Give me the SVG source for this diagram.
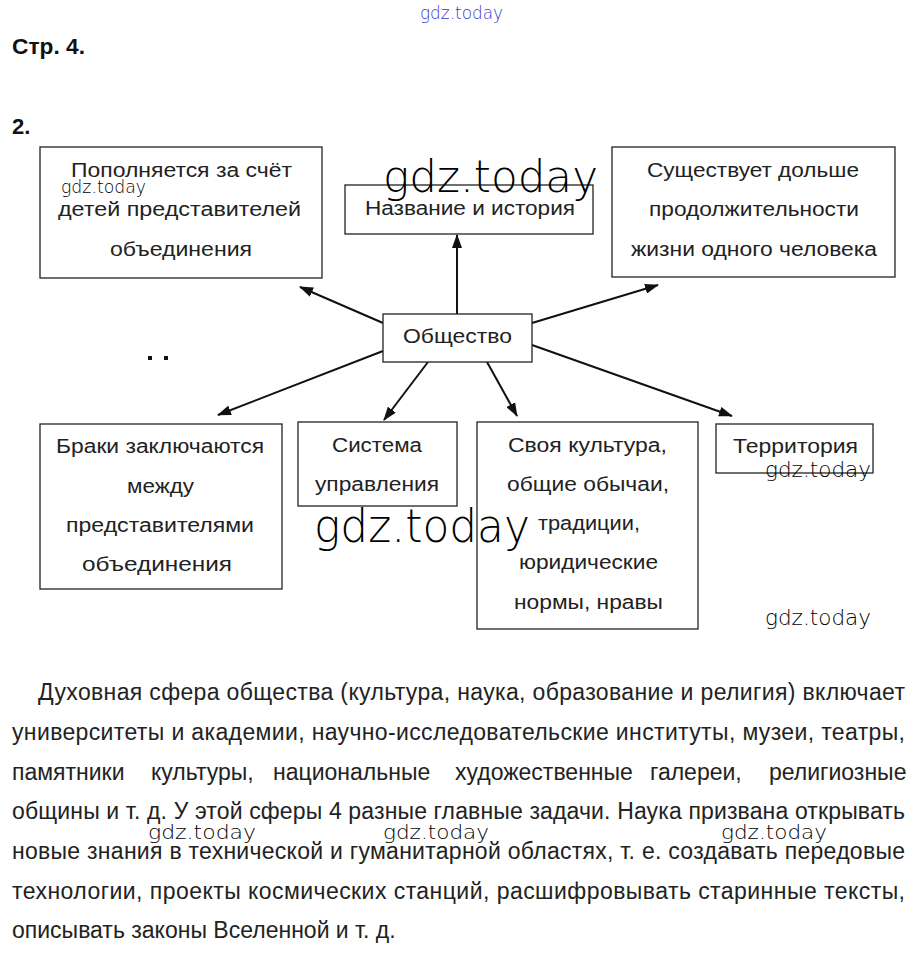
<svg xmlns="http://www.w3.org/2000/svg" width="920" height="956" viewBox="0 0 920 956">
<defs>
<style>
.box{fill:#fff;stroke:#222;stroke-width:1.3}
.bt{font-family:"Liberation Sans",Arial,sans-serif;font-size:20px;fill:#222}
.wm{font-family:"DejaVu Sans","Liberation Sans",sans-serif;font-weight:200;fill:#000}
.p{font-family:"Liberation Sans",Arial,sans-serif;font-size:23px;fill:#222}
.h{font-family:"Liberation Sans",Arial,sans-serif;font-size:22px;font-weight:bold;fill:#111}
.c{stroke:#111;stroke-width:2;fill:none;marker-end:url(#ah)}
</style>
<marker id="ah" viewBox="0 0 14 10" refX="13" refY="5" markerWidth="14" markerHeight="10" markerUnits="userSpaceOnUse" orient="auto">
<path d="M0,0 L14,5 L0,10 Z" fill="#111"/>
</marker>
</defs>
<rect width="920" height="956" fill="#fff"/>

<text x="420" y="19" class="wm" font-size="17" style="fill:#3a3acc" textLength="83" lengthAdjust="spacingAndGlyphs">gdz.today</text>
<text x="12" y="54" class="h" textLength="73" lengthAdjust="spacingAndGlyphs">Стр. 4.</text>
<text x="12" y="134" class="h">2.</text>
<rect x="148" y="356" width="4" height="4" fill="#111"/>
<rect x="164" y="356" width="4" height="4" fill="#111"/>

<g id="connectors">
<line class="c" x1="457" y1="314" x2="457" y2="235"/>
<line class="c" x1="383" y1="323" x2="300" y2="287"/>
<line class="c" x1="532" y1="323" x2="658" y2="285"/>
<line class="c" x1="383" y1="351" x2="218" y2="415"/>
<line class="c" x1="428" y1="362" x2="384" y2="420"/>
<line class="c" x1="487" y1="362" x2="517" y2="416"/>
<line class="c" x1="532" y1="345" x2="732" y2="416"/>
</g>

<g id="n-popoln">
<rect class="box" x="40" y="147" width="282" height="131"/>
<text class="bt" x="71" y="177" textLength="221" lengthAdjust="spacingAndGlyphs">Пополняется за счёт</text>
<text class="bt" x="58" y="216" textLength="243" lengthAdjust="spacingAndGlyphs">детей представителей</text>
<text class="bt" x="110" y="256" textLength="142" lengthAdjust="spacingAndGlyphs">объединения</text>
</g>
<g id="n-nazv">
<rect class="box" x="345" y="185" width="248" height="49"/>
<text class="bt" x="365" y="215" textLength="210" lengthAdjust="spacingAndGlyphs">Название и история</text>
</g>
<g id="n-sush">
<rect class="box" x="612" y="147" width="283" height="130"/>
<text class="bt" x="647" y="177" textLength="212" lengthAdjust="spacingAndGlyphs">Существует дольше</text>
<text class="bt" x="649" y="216" textLength="210" lengthAdjust="spacingAndGlyphs">продолжительности</text>
<text class="bt" x="631" y="256" textLength="246" lengthAdjust="spacingAndGlyphs">жизни одного человека</text>
</g>
<g id="n-obsh">
<rect class="box" x="383" y="314" width="149" height="48"/>
<text class="bt" x="403" y="343" textLength="109" lengthAdjust="spacingAndGlyphs">Общество</text>
</g>
<g id="n-braki">
<rect class="box" x="40" y="424" width="242" height="165"/>
<text class="bt" x="56" y="453" textLength="208" lengthAdjust="spacingAndGlyphs">Браки заключаются</text>
<text class="bt" x="127" y="493" textLength="67" lengthAdjust="spacingAndGlyphs">между</text>
<text class="bt" x="66" y="532" textLength="188" lengthAdjust="spacingAndGlyphs">представителями</text>
<text class="bt" x="82" y="571" textLength="150" lengthAdjust="spacingAndGlyphs">объединения</text>
</g>
<g id="n-sist">
<rect class="box" x="298" y="422" width="159" height="84"/>
<text class="bt" x="332" y="452" textLength="90" lengthAdjust="spacingAndGlyphs">Система</text>
<text class="bt" x="315" y="491" textLength="124" lengthAdjust="spacingAndGlyphs">управления</text>
</g>
<g id="n-kult">
<rect class="box" x="477" y="422" width="221" height="207"/>
<text class="bt" x="508" y="452" textLength="159" lengthAdjust="spacingAndGlyphs">Своя культура,</text>
<text class="bt" x="507" y="491" textLength="162" lengthAdjust="spacingAndGlyphs">общие обычаи,</text>
<text class="bt" x="538" y="530" textLength="102" lengthAdjust="spacingAndGlyphs">традиции,</text>
<text class="bt" x="519" y="569" textLength="139" lengthAdjust="spacingAndGlyphs">юридические</text>
<text class="bt" x="514" y="609" textLength="149" lengthAdjust="spacingAndGlyphs">нормы, нравы</text>
</g>
<g id="n-terr">
<rect class="box" x="716" y="424" width="157" height="49"/>
<text class="bt" x="733" y="453" textLength="125" lengthAdjust="spacingAndGlyphs">Территория</text>
</g>

<text x="383" y="192" class="wm" font-size="44" textLength="215" lengthAdjust="spacingAndGlyphs">gdz.today</text>
<text x="61" y="193" class="wm" font-size="17" textLength="85" lengthAdjust="spacingAndGlyphs">gdz.today</text>
<text x="314" y="542" class="wm" font-size="46" textLength="216" lengthAdjust="spacingAndGlyphs">gdz.today</text>
<text x="765" y="477" class="wm" font-size="21" textLength="106" lengthAdjust="spacingAndGlyphs">gdz.today</text>
<text x="765" y="625" class="wm" font-size="22" textLength="106" lengthAdjust="spacingAndGlyphs">gdz.today</text>

<text class="p" x="38" y="700" textLength="867" lengthAdjust="spacing">Духовная сфера общества (культура, наука, образование и религия) включает</text>
<text class="p" x="12" y="740" textLength="893" lengthAdjust="spacing">университеты и академии, научно-исследовательские институты, музеи, театры,</text>
<text class="p" y="780"><tspan x="12">памятники</tspan><tspan x="151">культуры,</tspan><tspan x="273">национальные</tspan><tspan x="455">художественные</tspan><tspan x="650">галереи,</tspan><tspan x="769">религиозные</tspan></text>
<text class="p" x="12" y="819" textLength="893" lengthAdjust="spacing">общины и т. д. У этой сферы 4 разные главные задачи. Наука призвана открывать</text>
<text x="148" y="839" class="wm" font-size="20" textLength="108" lengthAdjust="spacingAndGlyphs">gdz.today</text>
<text x="383" y="839" class="wm" font-size="20" textLength="106" lengthAdjust="spacingAndGlyphs">gdz.today</text>
<text x="721" y="839" class="wm" font-size="20" textLength="106" lengthAdjust="spacingAndGlyphs">gdz.today</text>
<text class="p" x="12" y="859" textLength="893" lengthAdjust="spacing">новые знания в технической и гуманитарной областях, т. е. создавать передовые</text>
<text class="p" x="12" y="899" textLength="893" lengthAdjust="spacing">технологии, проекты космических станций, расшифровывать старинные тексты,</text>
<text class="p" x="12" y="938">описывать законы Вселенной и т. д.</text>
</svg>
